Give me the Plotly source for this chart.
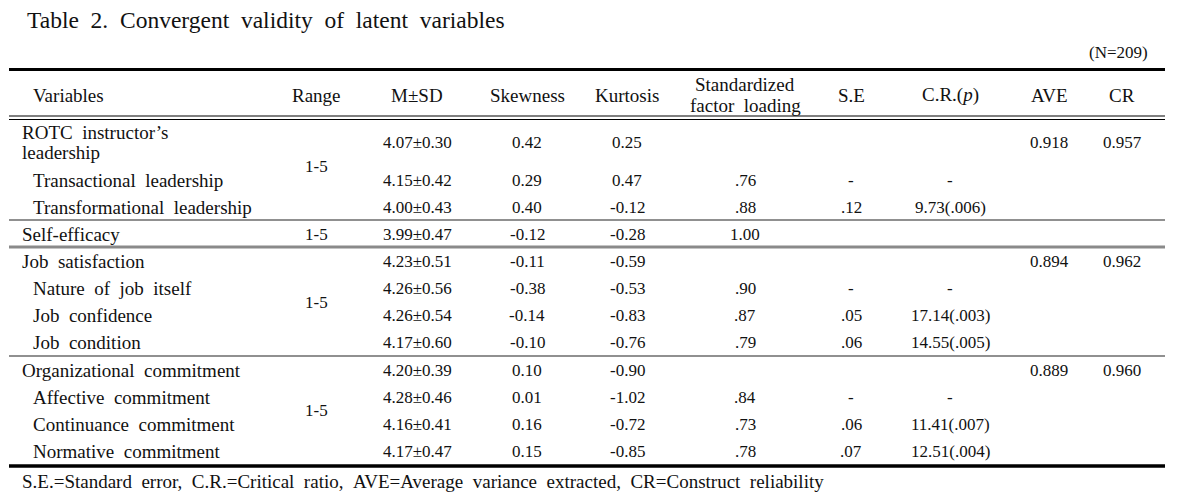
import plotly.graph_objects as go

# ---------------- data ----------------
title = "Table 2. Convergent validity of latent variables"
n_note = "(N=209)"
headers = ["Variables", "Range", "M±SD", "Skewness", "Kurtosis",
           "Standardized<br>factor loading", "S.E", "C.R.(<i>p</i>)", "AVE", "CR"]
variables = ["ROTC instructor’s<br>leadership", "Transactional leadership",
             "Transformational leadership", "Self-efficacy", "Job satisfaction",
             "Nature of job itself", "Job confidence", "Job condition",
             "Organizational commitment", "Affective commitment",
             "Continuance commitment", "Normative commitment"]
is_sub = [False, True, True, False, False, True, True, True, False, True, True, True]
msd = ["4.07±0.30", "4.15±0.42", "4.00±0.43", "3.99±0.47", "4.23±0.51", "4.26±0.56",
       "4.26±0.54", "4.17±0.60", "4.20±0.39", "4.28±0.46", "4.16±0.41", "4.17±0.47"]
skewness = ["0.42", "0.29", "0.40", "-0.12", "-0.11", "-0.38", "-0.14", "-0.10",
            "0.10", "0.01", "0.16", "0.15"]
kurtosis = ["0.25", "0.47", "-0.12", "-0.28", "-0.59", "-0.53", "-0.83", "-0.76",
            "-0.90", "-1.02", "-0.72", "-0.85"]
loading = ["", ".76", ".88", "1.00", "", ".90", ".87", ".79", "", ".84", ".73", ".78"]
se = ["", "-", ".12", "", "", "-", ".05", ".06", "", "-", ".06", ".07"]
cr_p = ["", "-", "9.73(.006)", "", "", "-", "17.14(.003)", "14.55(.005)",
        "", "-", "11.41(.007)", "12.51(.004)"]
ave = ["0.918", "", "", "", "0.894", "", "", "", "0.889", "", "", ""]
cr = ["0.957", "", "", "", "0.962", "", "", "", "0.960", "", "", ""]
range_groups = [(0, 2, "1-5"), (3, 3, "1-5"), (4, 7, "1-5"), (8, 11, "1-5")]
footnote = ("S.E.=Standard error, C.R.=Critical ratio, "
            "AVE=Average variance extracted, CR=Construct reliability")

# ---------------- layout (pixel space) ----------------
W, H = 1184, 498
FONT = "Liberation Serif, Times New Roman, serif"
FS_NUM = 17
FS_TXT = 19
INK = "#111111"
row_y = [142, 180, 207, 234, 261, 288, 315, 342, 370, 397, 424, 451]
range_y = [166, 234, 302, 410]
header_y = 95
col_x = {"Range": 316, "M±SD": 417, "Skew": 527, "Kurt": 627, "Load": 745,
         "SE": 851, "CR": 950, "AVE": 1049, "CRel": 1122}
x_main, x_sub = 20, 31
x_left, x_right = 9, 1165


def ws(s):
    # wider word spacing as in the Korean typeset original
    return s.replace(" ", "\u2002")


ann = []


def add(text, x, y, size=FS_NUM, xanchor="center", color=INK):
    ann.append(dict(text=text, x=x, y=y, xref="x", yref="y", showarrow=False,
                    xanchor=xanchor, yanchor="middle",
                    font=dict(family=FONT, size=size, color=color)))


# title and note
add(ws(title), 25, 20, size=23.5, xanchor="left")
add(n_note, 1150, 52, xanchor="right")

# headers
add(headers[0], 31, header_y, size=FS_TXT, xanchor="left")
keys = ["Range", "M±SD", "Skew", "Kurt", "Load", "SE", "CR", "AVE", "CRel"]
for h, k in zip(headers[1:], keys):
    if "<br>" in h:
        a, b = h.split("<br>")
        add(a, col_x[k], header_y - 11, size=FS_TXT)
        add(ws(b), col_x[k], header_y + 10, size=FS_TXT)
    else:
        add(h, col_x[k], header_y, size=FS_TXT)

# body
for i, name in enumerate(variables):
    y = row_y[i]
    x0 = x_sub if is_sub[i] else x_main
    if "<br>" in name:
        a, b = name.split("<br>")
        add(ws(a), x0, y - 10, size=FS_TXT, xanchor="left")
        add(ws(b), x0, y + 10, size=FS_TXT, xanchor="left")
    else:
        add(ws(name), x0, y, size=FS_TXT, xanchor="left")
    for k, arr in [("M±SD", msd), ("Skew", skewness), ("Kurt", kurtosis),
                   ("Load", loading), ("SE", se), ("CR", cr_p),
                   ("AVE", ave), ("CRel", cr)]:
        if arr[i]:
            add(arr[i], col_x[k], y)

for (a, b, txt), y in zip(range_groups, range_y):
    add(txt, col_x["Range"], y)

add(ws(footnote), 20, 481, size=FS_TXT, xanchor="left")

# rules
shapes = []


def hline(y, width, color="#000000"):
    shapes.append(dict(type="line", xref="x", yref="y", x0=x_left, x1=x_right,
                       y0=y, y1=y, line=dict(color=color, width=width)))


hline(69.5, 3)
hline(116, 1.2)
hline(119.5, 1.2)
hline(220, 1.2, "#222222")
hline(247, 3, "#8a8a8a")
hline(356, 1.2, "#222222")
hline(466, 3.5)

fig = go.Figure()
fig.add_trace(go.Scatter(x=[0, W], y=[0, H], mode="markers",
                         marker=dict(opacity=0), hoverinfo="skip", showlegend=False))
fig.update_layout(
    width=W, height=H, margin=dict(l=0, r=0, t=0, b=0),
    paper_bgcolor="white", plot_bgcolor="white",
    xaxis=dict(range=[0, W], visible=False, fixedrange=True),
    yaxis=dict(range=[H, 0], visible=False, fixedrange=True),
    annotations=ann, shapes=shapes, showlegend=False,
)
fig.write_html("out.html", config={"displayModeBar": False},
               post_script="document.body.style.margin='0';")
